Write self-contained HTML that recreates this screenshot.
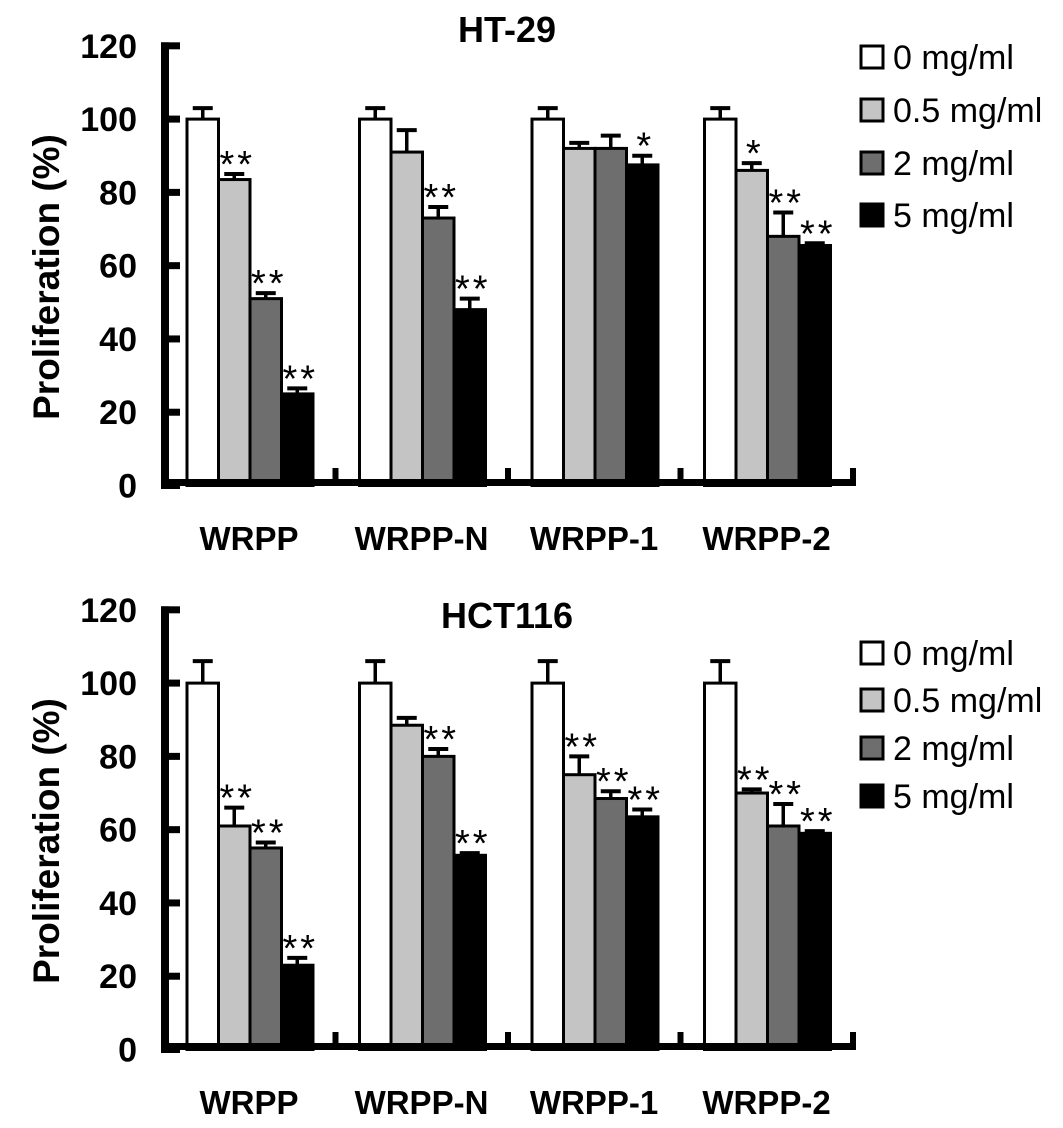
<!DOCTYPE html>
<html><head><meta charset="utf-8"><style>
html,body{margin:0;padding:0;background:#fff}
svg{display:block}
</style></head><body>
<svg id="fig" width="1063" height="1128" viewBox="0 0 1063 1128" xmlns="http://www.w3.org/2000/svg" font-family="Liberation Sans, Arial, sans-serif"></svg>
<script>
const categories = ["WRPP","WRPP-N","WRPP-1","WRPP-2"];
const seriesNames = ["0 mg/ml","0.5 mg/ml","2 mg/ml","5 mg/ml"];
const yTicks = [0,20,40,60,80,100,120];
// HT-29 values per series (across categories)
const ht29_s0 = [100,100,100,100];
const ht29_s1 = [83.5,91,92,86];
const ht29_s2 = [51,73,92,68];
const ht29_s3 = [25,48,87.5,65.5];
const ht29_e0 = [3,3,3,3];
const ht29_e1 = [1.5,6,1.5,2];
const ht29_e2 = [1.5,3,3.5,6.5];
const ht29_e3 = [1.5,3,2.5,0.6];
const ht29_sig1 = ["**","","","*"];
const ht29_sig2 = ["**","**","",  "**"];
const ht29_sig3 = ["**","**","*","**"];
// HCT116
const hct_s0 = [100,100,100,100];
const hct_s1 = [61,88.5,75,70];
const hct_s2 = [55,80,68.5,61];
const hct_s3 = [23,53,63.5,59];
const hct_e0 = [6,6,6,6];
const hct_e1 = [5,2,5,1];
const hct_e2 = [1.5,2,2,6];
const hct_e3 = [2,0.6,2,0.6];
const hct_sig1 = ["**","","**","**"];
const hct_sig2 = ["**","**","**","**"];
const hct_sig3 = ["**","**","**","**"];

const svg = document.getElementById('fig');
const NS = 'http://www.w3.org/2000/svg';
const fills = ['#ffffff','#c4c4c4','#6e6e6e','#000000'];
function el(tag, attrs, txt){
  const e = document.createElementNS(NS, tag);
  for (const k in attrs) e.setAttribute(k, attrs[k]);
  if (txt !== undefined) e.textContent = txt;
  svg.appendChild(e);
  return e;
}

function drawChart(off, title, titleY, labelY, series, errs, sigs, legendYs, key){
  const y = v => 485.5 + off - 3.664 * v;
  const catX = i => 163 + i * 172.5;
  const bw = 31.5;
  const yt = el('text',{x:0,y:0,'font-size':37,'font-weight':'bold','text-anchor':'middle',transform:`translate(59,${277+off}) rotate(-90)`},'Proliferation (%)');
  
  
  const t = el('text',{x:507,y:titleY+13,'font-size':36,'font-weight':'bold','text-anchor':'middle'},title);
  
  
  yTicks.forEach(v=>{
    const lab = el('text',{x:137,y:y(v)+12,'font-size':34,'font-weight':'bold','text-anchor':'end'},String(v));
    
    
    const tk = el('rect',{x:161,y:y(v)-3.5,width:19,height:7,fill:'#000'});
    
    
  });
  categories.forEach((c,i)=>{
    for(let s=0;s<4;s++){
      const v = series[s][i], e = errs[s][i];
      const x0 = catX(i) + 24 + s*bw;
      const cx = x0 + bw/2;
      const ln = el('line',{x1:cx,x2:cx,y1:y(v),y2:y(v+e),stroke:'#000','stroke-width':3.5});
      
      
      const cap = el('line',{x1:cx-10,x2:cx+10,y1:y(v+e),y2:y(v+e),stroke:'#000','stroke-width':4});
      
      
      const r = el('rect',{x:x0,y:y(v),width:bw,height:y(0)-y(v),fill:fills[s],stroke:'#000','stroke-width':3});
      
      
      if (s>0 && sigs[s-1][i]){
        const st = el('text',{x:cx+3,y:y(v+e)+3,'font-size':38,'text-anchor':'middle','letter-spacing':'3'},sigs[s-1][i]);
        
        
      }
    }
    const cl = el('text',{x:catX(i)+86,y:labelY+12,'font-size':33,'font-weight':'bold','text-anchor':'middle'},c);
    
    
  });
  const ya = el('rect',{x:161,y:y(120)-3.5,width:8,height:y(0)-y(120)+4,fill:'#000'});
  
  
  const xa = el('rect',{x:161,y:479+off,width:695,height:7,fill:'#000'});
  
  
  for(let i=1;i<=4;i++){
    const xt = el('rect',{x:catX(i)-3,y:468+off,width:6,height:12,fill:'#000'});
    
    
  }
  seriesNames.forEach((n,s)=>{
    const ly = legendYs[s];
    const sq = el('rect',{x:861,y:ly-11,width:22,height:22,fill:fills[s],stroke:'#000','stroke-width':3});
    
    
    const lt = el('text',{x:893,y:ly+12,'font-size':34},n);
    
    
  });
}

drawChart(0,'HT-29',29,538,[ht29_s0,ht29_s1,ht29_s2,ht29_s3],[ht29_e0,ht29_e1,ht29_e2,ht29_e3],[ht29_sig1,ht29_sig2,ht29_sig3],[57,110,163,215],'ht29');
drawChart(564,'HCT116',615,1102,[hct_s0,hct_s1,hct_s2,hct_s3],[hct_e0,hct_e1,hct_e2,hct_e3],[hct_sig1,hct_sig2,hct_sig3],[653,700,748,796],'hct116');
</script>
</body></html>
